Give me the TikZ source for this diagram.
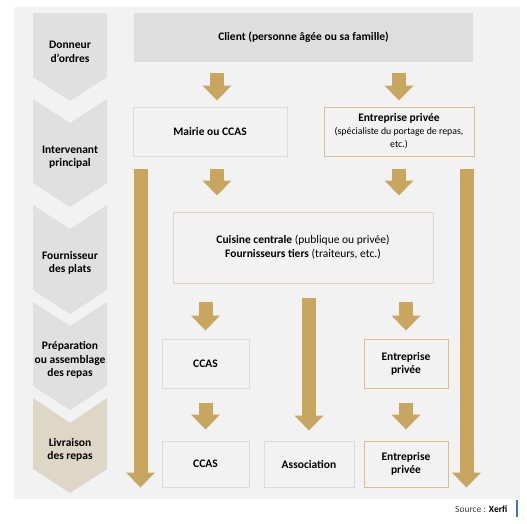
\documentclass[tikz,border=0pt]{standalone}
\usepackage{fontspec}
\setmainfont{Carlito}
\usepackage{tikz}
\usetikzlibrary{arrows.meta, calc}
\usepackage{xcolor}
\definecolor{fond}{HTML}{F2F2F2}
\definecolor{grisfonce}{HTML}{DEDEDE}
\definecolor{chevgris}{HTML}{E0E0E0}
\definecolor{chevbeige}{HTML}{DED6C6}
\definecolor{or}{HTML}{C8A65F}
\definecolor{borddore}{HTML}{D9BF88}
\definecolor{bordgris}{HTML}{DADADA}
\definecolor{bordcuisine}{HTML}{E0D9C8}
\definecolor{bleuxl}{HTML}{4472C4}
\newcommand{\petittexte}{\fontsize{9.8}{11}\selectfont\mdseries}

\begin{document}
\begin{tikzpicture}[x=1pt, y=-1pt,
  boite/.style={draw=bordgris, line width=1pt, fill=fond, align=center, font=\fontsize{11.5}{13}\selectfont\bfseries, inner sep=2pt},
  boiteor/.style={boite, draw=borddore},
  fleche/.style={draw=or, line width=14pt, -{Triangle[width=29pt,length=15pt,line width=0pt]}},
  etape/.style={align=center, font=\fontsize{11.5}{13.5}\selectfont\bfseries}]

% 背景
\useasboundingbox (0,0) rectangle (527,523);
\fill[fond] (14,7) rectangle (520,499);

% 左侧五个步骤
\foreach \h/\n/\b/\c in {13/0/77/chevgris, 99/24/183/chevgris, 205/24/290/chevgris, 302/24/386/chevgris, 398/25/469/chevbeige}
  \fill[\c] (33,\h) -- (70,\h+\n) -- (107,\h) -- (107,\b) -- (70,\b+24) -- (33,\b) -- cycle;

\node[etape] (donneur) at (70,52) {Donneur\\d’ordres};
\node[etape] (intervenant) at (70,157) {Intervenant\\principal};
\node[etape] (fournisseur) at (70,263) {Fournisseur\\des plats};
\node[etape] (preparation) at (70,360) {Préparation\\ou assemblage\\des repas};
\node[etape] (livraison) at (70,450) {Livraison\\des repas};

% 各个参与者
\node[boite, fill=grisfonce, draw=none, minimum width=339, minimum height=49] (client) at (303.5,37.5) {Client (personne âgée ou sa famille)};
\node[boite, minimum width=154, minimum height=49] (mairie) at (210,131.5) {Mairie ou CCAS};
\node[boiteor, minimum width=150, minimum height=49] (entA) at (399,131.5) {Entreprise privée\\{\petittexte (spécialiste du portage de repas,}\\{\petittexte etc.)}};
\node[boite, draw=bordcuisine, minimum width=260, minimum height=71, font=\fontsize{11.5}{14}\selectfont] (cuisine) at (303,247.5) {\textbf{Cuisine centrale} (publique ou privée)\\\textbf{Fournisseurs tiers} (traiteurs, etc.)};
\node[boite, minimum width=87, minimum height=49] (ccasP) at (205.5,363.5) {CCAS};
\node[boiteor, minimum width=84, minimum height=49] (entP) at (406,363.5) {Entreprise\\privée};
\node[boite, minimum width=87, minimum height=46] (ccasL) at (205.5,464) {CCAS};
\node[boite, minimum width=90, minimum height=46] (assoc) at (309,464) {Association};
\node[boiteor, minimum width=84, minimum height=46] (entL) at (406,464) {Entreprise\\privée};

% 金色箭头
\draw[fleche] ($(client.south -| mairie)+(7,10)$) -- ($(mairie.north)+(7,-6)$);
\draw[fleche] ($(client.south -| entA)+(0,10)$) -- ($(entA.north)+(0,-6)$);
\draw[fleche] ($(mairie.south)+(7,12)$) -- ($(cuisine.north -| mairie)+(7,-16)$);
\draw[fleche] ($(entA.south)+(0,12)$) -- ($(cuisine.north -| entA)+(0,-16)$);
\draw[fleche] ($(cuisine.south -| ccasP)+(0,18)$) -- ($(ccasP.north)+(0,-8)$);
\draw[fleche] ($(cuisine.south -| entP)+(0,18)$) -- ($(entP.north)+(0,-8)$);
\draw[fleche] ($(ccasP.south)+(0,14)$) -- ($(ccasL.north)+(0,-11)$);
\draw[fleche] ($(entP.south)+(0,14)$) -- ($(entL.north)+(0,-11)$);
\draw[fleche] ($(cuisine.south -| assoc)+(0,14)$) -- ($(assoc.north)+(0,-10)$);
\draw[fleche] ($(mairie.south west)+(8,12)$) -- ($(ccasL.south -| mairie.south west)+(8,0)$);
\draw[fleche] ($(entA.south east)+(-8,12)$) -- ($(entL.south -| entA.south east)+(-8,0)$);

% 来源
\node[anchor=east, font=\fontsize{9.5}{11}\selectfont, text=black!75] (source) at (511,509) {Source : \textbf{\color{black}Xerfi}};
\draw[bleuxl, line width=1.2pt] (517,500) -- (517,517);
\end{tikzpicture}
\end{document}
